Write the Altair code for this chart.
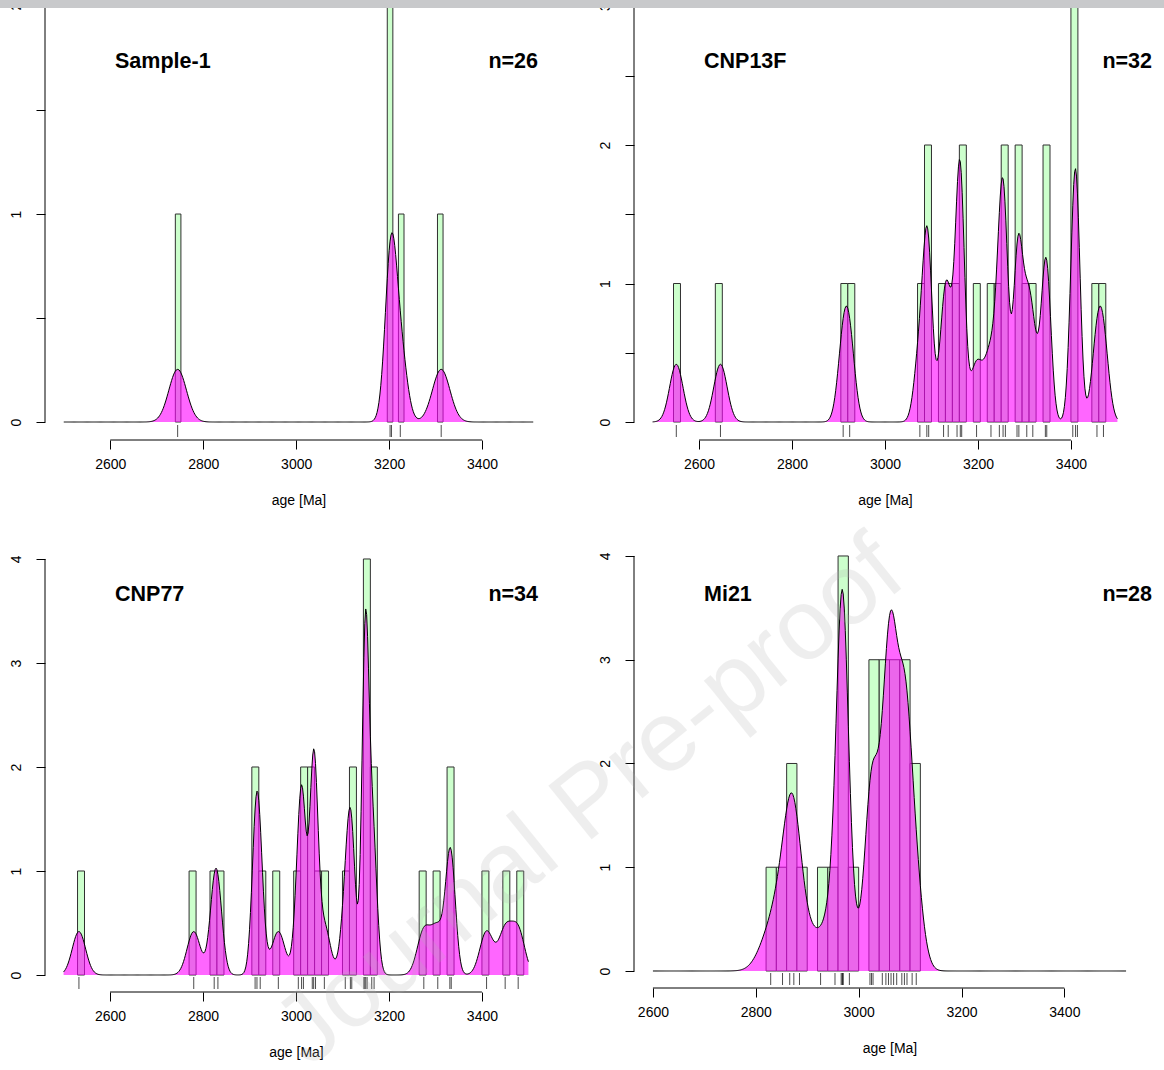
import altair as alt
import pandas as pd

# ---------------- data ----------------
samples = ["Sample-1", "CNP13F", "CNP77", "Mi21"]
n_labels = [26, 32, 34, 28]

ages_sample1 = [2745, 3202, 3205, 3224, 3312]
ages_cnp13f = [2551, 2646, 2910, 2924, 3075, 3090, 3094, 3126, 3136, 3155,
               3162, 3165, 3197, 3228, 3246, 3254, 3259, 3284, 3288, 3305,
               3318, 3345, 3348, 3404, 3410, 3414, 3456, 3470]
ages_cnp77 = [2533, 2780, 2824, 2832, 2912, 2916, 2923, 2962, 3005, 3012,
              3016, 3035, 3038, 3042, 3061, 3106, 3117, 3120, 3146, 3148,
              3150, 3153, 3163, 3168, 3275, 3305, 3331, 3334, 3410, 3450, 3478]
ages_mi21 = [2829, 2852, 2866, 2874, 2885, 2926, 2954, 2966, 2968, 2969,
             2970, 2982, 3022, 3025, 3028, 3046, 3053, 3058, 3063, 3068,
             3074, 3084, 3089, 3094, 3104, 3112]
all_ages = [ages_sample1, ages_cnp13f, ages_cnp77, ages_mi21]

kde_from = [2500, 2500, 2500, 2600]
kde_to = [3510, 3500, 3500, 3520]
bin_width = [12, 15, 15, 20]
bandwidth = [15, 10.5, 10, 13]

x_ticks = [2600, 2800, 3000, 3200, 3400]
y_ticks = [[0, 0.5, 1, 1.5, 2], [0, 0.5, 1, 1.5, 2, 2.5, 3],
           [0, 1, 2, 3, 4], [0, 1, 2, 3, 4]]
watermark = "Journal Pre-proof"

# ---------------- layout / style ----------------
FONT = "Liberation Sans"
panel_w = [507, 502, 502, 511]
panel_h = [440, 440, 452, 448]
y_dom = [[-0.0865, 2.029], [-0.130, 3.047], [-0.1635, 4.1825], [-0.164, 4.154]]
label_pos = [(70, 62), (70, 62), (70, 55), (70, 55)]
n_pos = [(493, 62), (518, 62), (493, 55), (518, 55)]

rows = []
for s, ages in zip(samples, all_ages):
    for a in ages:
        rows.append({"sample": s, "age": a})
ages_df = pd.DataFrame(rows)


def panel(i):
    s = samples[i]
    frm, to, w, bw = kde_from[i], kde_to[i], bin_width[i], bandwidth[i]
    pad = 0.04 * (to - frm)
    W, H = panel_w[i], panel_h[i]
    xs = alt.Scale(domain=[frm - pad, to + pad], nice=False, zero=False)
    ys = alt.Scale(domain=y_dom[i], nice=False, zero=False)
    xaxis = alt.Axis(values=x_ticks, domain=False, grid=False, tickSize=9,
                     tickColor="black", labelColor="black", labelFontSize=14,
                     labelFont=FONT, labelPadding=8, labelFlush=False,
                     labelOverlap=False, title="age [Ma]", titleFont=FONT,
                     titleFontSize=14, titleFontWeight="normal",
                     titleColor="black", titlePadding=22, format="d")
    yaxis = alt.Axis(values=y_ticks[i], domain=False, grid=False, tickSize=9,
                     tickColor="black", labelColor="black", labelFontSize=14,
                     labelFont=FONT, labelAngle=270, labelAlign="center",
                     labelBaseline="bottom", labelPadding=13, labelFlush=False,
                     labelOverlap=False,
                     labelExpr="datum.value % 1 === 0 ? format(datum.value, 'd') : ''",
                     title=None)

    base = alt.Chart(ages_df).transform_filter(alt.datum.sample == s)

    hist = base.transform_calculate(
        b0=f"{frm} + floor((datum.age - {frm}) / {w}) * {w}"
    ).transform_aggregate(
        cnt="count()", groupby=["b0"]
    ).transform_calculate(
        b1=f"datum.b0 + {w}"
    ).mark_rect(fill="#ccffcc", stroke="#303030", strokeWidth=1, clip=True).encode(
        x=alt.X("b0:Q", scale=xs, axis=xaxis),
        x2="b1:Q",
        y=alt.Y("cnt:Q", scale=ys, axis=yaxis),
        y2=alt.datum(0),
    )

    # adaptive (Abramson) kernel density estimate of the ages
    kde = base.transform_window(
        gid="row_number()"
    ).transform_joinaggregate(
        others="values(age)"
    ).transform_flatten(
        ["others"], as_=["other"]
    ).transform_calculate(
        k=f"exp(-0.5 * pow((datum.age - datum.other.age) / {bw}, 2))"
    ).transform_aggregate(
        f="sum(k)", groupby=["gid", "age"]
    ).transform_calculate(
        lf="log(datum.f)"
    ).transform_joinaggregate(
        mlf="mean(lf)"
    ).transform_calculate(
        sd=f"{bw} * sqrt(exp(datum.mlf) / datum.f)"
    ).transform_calculate(
        g=f"sequence({frm}, {to} + 0.001, 2)"
    ).transform_flatten(
        ["g"]
    ).transform_calculate(
        kern=f"{w} * exp(-0.5 * pow((datum.g - datum.age) / datum.sd, 2)) / (datum.sd * sqrt(2 * PI))"
    ).transform_aggregate(
        dens="sum(kern)", groupby=["g"]
    )

    area = kde.mark_area(fill="#ff00ff", fillOpacity=0.6).encode(
        x=alt.X("g:Q", scale=xs, axis=xaxis),
        y=alt.Y("dens:Q", scale=ys, axis=yaxis),
        y2=alt.datum(0),
    )
    line = kde.mark_line(color="black", strokeWidth=1).encode(
        x=alt.X("g:Q", scale=xs, axis=xaxis),
        y=alt.Y("dens:Q", scale=ys, axis=yaxis),
    )

    rug = base.mark_rule(color="black", strokeWidth=1, opacity=0.7).encode(
        x=alt.X("age:Q", scale=xs, axis=xaxis),
        y=alt.value(H - 3),
        y2=alt.value(H - 15),
    )

    xline = alt.Chart(pd.DataFrame({"t": x_ticks})).transform_aggregate(
        lo="min(t)", hi="max(t)"
    ).mark_rule(color="black", strokeWidth=1).encode(
        x=alt.X("lo:Q", scale=xs, axis=xaxis), x2="hi:Q", y=alt.value(H)
    )
    yline = alt.Chart(pd.DataFrame({"t": y_ticks[i]})).transform_aggregate(
        lo="min(t)", hi="max(t)"
    ).mark_rule(color="black", strokeWidth=1).encode(
        y=alt.Y("lo:Q", scale=ys, axis=yaxis), y2="hi:Q", x=alt.value(0)
    )

    lab = alt.Chart(pd.DataFrame({"t": [s]})).mark_text(
        align="left", baseline="middle", font=FONT, fontSize=21.5,
        fontWeight="bold", color="black"
    ).encode(text="t:N", x=alt.value(label_pos[i][0]), y=alt.value(label_pos[i][1]))
    nlab = alt.Chart(pd.DataFrame({"t": [f"n={n_labels[i]}"]})).mark_text(
        align="right", baseline="middle", font=FONT, fontSize=21.5,
        fontWeight="bold", color="black"
    ).encode(text="t:N", x=alt.value(n_pos[i][0]), y=alt.value(n_pos[i][1]))

    layers = [hist, area, line, rug, xline, yline, lab, nlab]

    wm_df = pd.DataFrame({"t": [watermark]})
    if i == 0:
        band_txt = alt.Chart(wm_df).mark_text(
            font=FONT, fontSize=20, fontWeight="bold", color="white",
            align="center", baseline="alphabetic", clip=True
        ).encode(text="t:N", x=alt.value(505), y=alt.value(5))
        layers += [band_txt]
    if i == 1:
        band = alt.Chart(wm_df).mark_rect(color="#c8c9cb").encode(
            x=alt.value(-634), x2=alt.value(530), y=alt.value(0), y2=alt.value(8))
        band_txt = alt.Chart(wm_df).mark_text(
            font=FONT, fontSize=20, fontWeight="bold", color="white",
            align="center", baseline="alphabetic", clip=True
        ).encode(text="t:N", x=alt.value(-84), y=alt.value(5))
        layers += [band, band_txt]
    if i == 3:
        wm = alt.Chart(wm_df).mark_text(
            font=FONT, fontSize=100, color="#b0b0b0", opacity=0.2,
            align="center", baseline="middle", angle=321
        ).encode(text="t:N", x=alt.value(-44), y=alt.value(262))
        layers += [wm]

    return alt.layer(*layers).properties(width=W, height=H)


chart = alt.concat(
    panel(0), panel(1), panel(2), panel(3), columns=2,
    spacing=alt.RowColnumber(row=100, column=82), bounds="flush",
).properties(
    padding={"left": 0, "top": 0, "right": 0, "bottom": 0},
    autosize=alt.AutoSizeParams(type="pad"),
).configure(background="white", font=FONT, view=alt.ViewConfig(stroke=None))

chart.save("out.html", embed_options={"renderer": "svg", "actions": False})
